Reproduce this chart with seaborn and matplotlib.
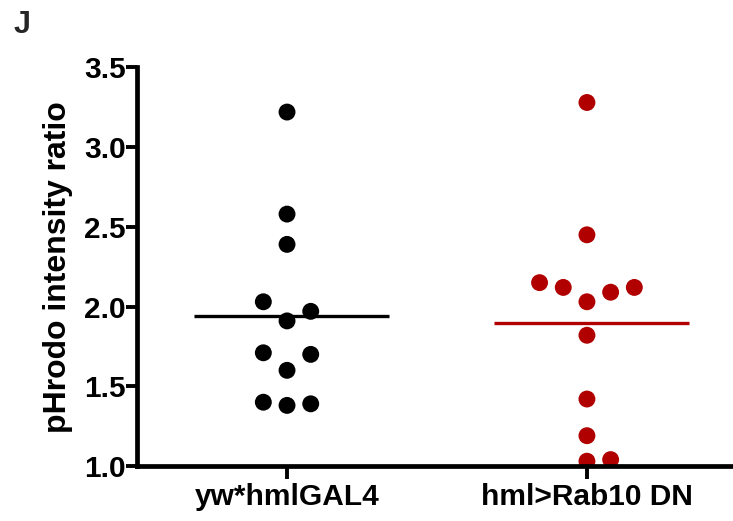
import numpy as np
import pandas as pd
import matplotlib
matplotlib.use("Agg")
import matplotlib.pyplot as plt
import seaborn as sns

# pHrodo intensity ratio per hemocyte sample
groups = ["yw*hmlGAL4", "hml>Rab10 DN"]
control_vals = [3.22, 2.58, 2.39, 2.03, 1.97, 1.91, 1.70, 1.71, 1.60, 1.40, 1.38, 1.39]
rab10_vals = [3.28, 2.45, 2.15, 2.12, 2.03, 2.09, 2.12, 1.82, 1.42, 1.19, 1.03, 1.04]
colors = ["#000000", "#B00000"]
y_ticks = [1.0, 1.5, 2.0, 2.5, 3.0, 3.5]


def scatter_offsets(values, bin_height=0.13, step=0.079):
    """Column-scatter layout: points that fall in the same height bin are
    spread sideways in the order centre, right, left, right2, left2, ..."""
    vals = np.asarray(values, dtype=float)
    order = np.argsort(vals, kind="stable")
    offsets = np.zeros(len(vals))
    start, slot = None, 0
    for idx in order:
        if start is None or vals[idx] - start > bin_height:
            start, slot = vals[idx], 0
        k = (slot + 1) // 2
        offsets[idx] = k * step if slot % 2 == 1 else -k * step
        slot += 1
    return offsets


frames = []
for i, (name, vals) in enumerate(zip(groups, [control_vals, rab10_vals])):
    frames.append(pd.DataFrame({
        "group": name,
        "pos": i + scatter_offsets(vals),
        "ratio": vals,
    }))
df = pd.concat(frames, ignore_index=True)

sns.set_theme(style="ticks")
plt.rcParams["font.family"] = ["Liberation Sans", "DejaVu Sans"]
plt.rcParams["font.weight"] = "bold"

fig = plt.figure(figsize=(7.33, 5.21), dpi=100)
ax = fig.add_axes([0.187, 0.1056, 0.813, 0.765])

sns.scatterplot(data=df, x="pos", y="ratio", hue="group", hue_order=groups,
                palette=colors, s=148, linewidth=0, legend=False, ax=ax,
                zorder=3)

# mean line for each group
for i, (vals, c) in enumerate(zip([control_vals, rab10_vals], colors)):
    ax.hlines(np.mean(vals), i - 0.31, i + 0.34, color=c, linewidth=2.4, zorder=2)

ax.set_xlim(-0.5, 1.487)
ax.set_ylim(1.0, 3.5)
ax.set_xticks(range(len(groups)))
ax.set_xticklabels(groups)
ax.set_yticks(y_ticks)
ax.set_yticklabels([f"{t:.1f}" for t in y_ticks])
ax.set_xlabel("")
ax.set_ylabel("pHrodo intensity ratio", fontsize=23, fontweight="bold",
              color="black", labelpad=8)

for side in ["top", "right"]:
    ax.spines[side].set_visible(False)
for side in ["left", "bottom"]:
    ax.spines[side].set_linewidth(3.4)
    ax.spines[side].set_color("black")
    ax.spines[side].set_zorder(5)

ax.tick_params(axis="y", length=8, width=2.8, labelsize=21.5, pad=0, colors="black")
ax.tick_params(axis="x", length=9, width=2.8, labelsize=21.5, pad=3, colors="black")
for lab in ax.get_xticklabels() + ax.get_yticklabels():
    lab.set_fontweight("bold")

fig.text(0.018, 1 - 33 / 521, "J", fontsize=22, fontweight="bold",
         ha="left", va="baseline")

fig.savefig("out.png", dpi=100)
